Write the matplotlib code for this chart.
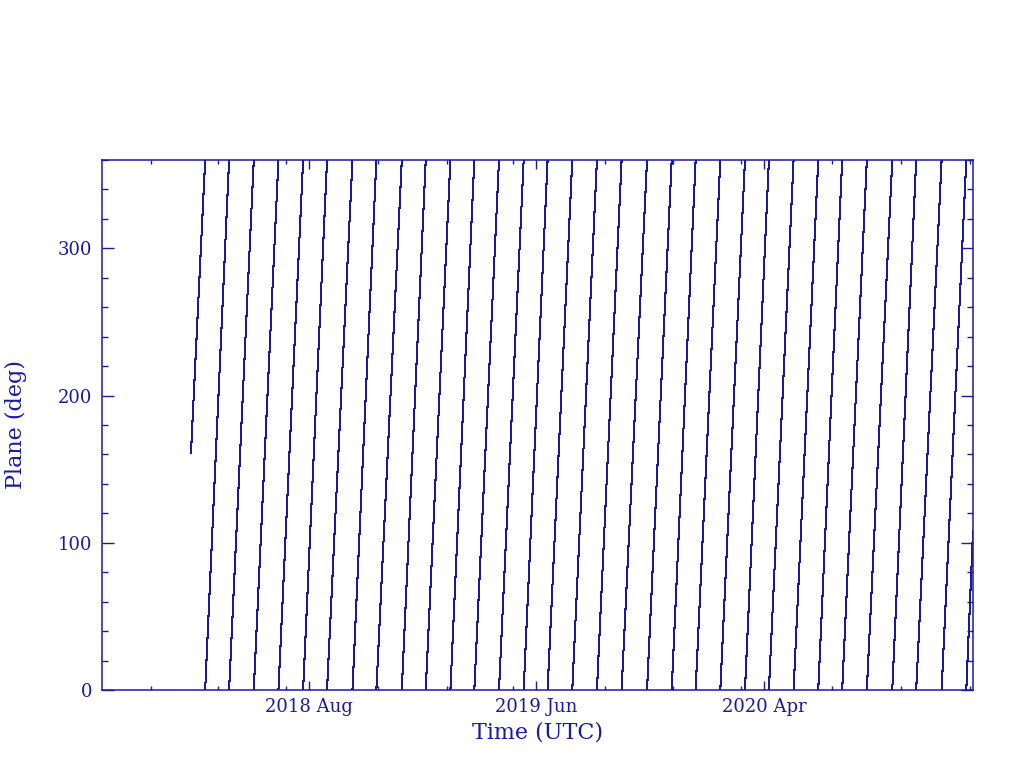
import pandas as pd
import matplotlib
matplotlib.use('Agg')
import matplotlib.pyplot as plt
import matplotlib.dates as mdates
from matplotlib.ticker import FixedLocator, NullFormatter

BLUE = '#1a1aa0'

# first partial cycle starts part-way up
start_time = '2018-02-24'
start_plane = 161

# times where the plane angle wraps from 360 back to 0
wrap_times = ['2018-03-15', '2018-04-16', '2018-05-19', '2018-06-21', '2018-07-24',
              '2018-08-25', '2018-09-28', '2018-10-30', '2018-12-03', '2019-01-04',
              '2019-02-06', '2019-03-10', '2019-04-12', '2019-05-15', '2019-06-16',
              '2019-07-19', '2019-08-21', '2019-09-23', '2019-10-27', '2019-11-29',
              '2019-12-31', '2020-02-02', '2020-03-06', '2020-04-07', '2020-05-10',
              '2020-06-12', '2020-07-14', '2020-08-16', '2020-09-19', '2020-10-21',
              '2020-11-24', '2020-12-27']

end_time = '2021-01-05'
end_plane = 108

major_ticks = ['2018-08-01', '2019-06-01', '2020-04-01']
major_labels = ['2018 Aug', '2019 Jun', '2020 Apr']
minor_ticks = ['2018-01-01', '2018-04-01', '2018-07-01', '2018-11-01', '2019-02-01',
               '2019-05-01', '2019-09-01', '2019-12-01', '2020-03-01', '2020-07-01',
               '2020-10-01', '2021-01-01']
x_range = ['2017-10-28', '2021-01-05']

plt.rcParams['font.family'] = ['DejaVu Serif']

fig = plt.figure(figsize=(10.24, 7.68), dpi=100)
ax = fig.add_axes([0.0996, 0.1016, 0.8506, 0.6901])

wraps = pd.to_datetime(wrap_times)
seg_start = [pd.to_datetime(start_time)] + list(wraps)
seg_end = list(wraps) + [pd.to_datetime(end_time)]
val_start = [start_plane] + [0] * len(wraps)
val_end = [360] * len(wraps) + [end_plane]

for t0, t1, v0, v1 in zip(seg_start, seg_end, val_start, val_end):
    ax.plot([t0, t1], [v0, v1], color=BLUE, lw=0.75, antialiased=False)

ax.set_xlim(pd.to_datetime(x_range[0]), pd.to_datetime(x_range[1]))
ax.set_ylim(0, 360)

ax.xaxis.set_major_locator(FixedLocator(mdates.date2num(pd.to_datetime(major_ticks))))
ax.xaxis.set_minor_locator(FixedLocator(mdates.date2num(pd.to_datetime(minor_ticks))))
ax.set_xticklabels(major_labels)
ax.xaxis.set_minor_formatter(NullFormatter())

ax.set_yticks([0, 100, 200, 300])
ax.set_yticks(range(0, 361, 20), minor=True)

ax.tick_params(axis='both', which='both', direction='in', top=True, right=True,
               colors=BLUE, width=1.0, labelsize=13)
ax.tick_params(axis='x', which='major', length=6.5, pad=6)
ax.tick_params(axis='x', which='minor', length=3)
ax.tick_params(axis='y', which='major', length=8.6, pad=7)
ax.tick_params(axis='y', which='minor', length=4.3)

for s in ax.spines.values():
    s.set_color(BLUE)
    s.set_linewidth(1.1)

ax.set_xlabel('Time (UTC)', fontsize=16, color=BLUE, labelpad=4)
ax.set_ylabel('Plane (deg)', fontsize=16, color=BLUE, labelpad=22)

plt.savefig('out.png', dpi=100)
